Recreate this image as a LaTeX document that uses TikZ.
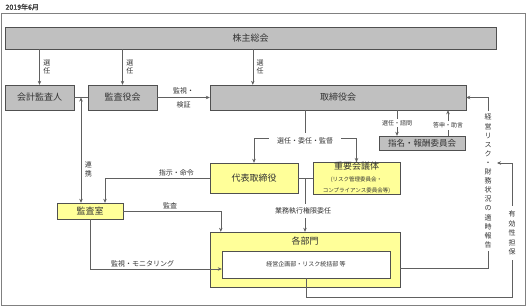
\documentclass[tikz,border=0pt]{standalone}
\usepackage{fontspec}
\setmainfont{Noto Sans CJK JP}[AutoFakeBold=1.5]
\usetikzlibrary{arrows.meta, calc}

\definecolor{boxgray}{HTML}{C0C0C0}
\definecolor{boxyel}{HTML}{FFFF99}
\definecolor{edge}{HTML}{505050}
\definecolor{wire}{HTML}{606060}
\definecolor{txt}{HTML}{333333}

\newcommand{\subsize}{\fontsize{5.5}{6.8}\selectfont}

\begin{document}
\begin{tikzpicture}[
		x=1pt, y=-1pt,
		>={Stealth[length=4pt, width=3.5pt]},
		base/.style={draw=edge, inner sep=0pt, align=center, text=txt},
		graybox/.style={base, fill=boxgray, font=\fontsize{9}{11}\selectfont},
		yelbox/.style={base, fill=boxyel, font=\fontsize{9}{11}\selectfont},
		lbl/.style={fill=white, inner sep=1.5pt, align=center, text=txt, font=\fontsize{7}{8.5}\selectfont},
		vlbl/.style={lbl, inner sep=3pt, font=\fontsize{7}{9.1}\selectfont},
		conn/.style={draw=wire, line width=0.6pt}
	]
	\useasboundingbox (0,0) rectangle (527,306);

	% Frame and date
	\node[anchor=west, text=txt, font=\fontsize{7}{8}\selectfont\bfseries] (date) at (2,7) {2019年6月};
	\draw[draw=gray, line width=0.6pt] (1,13) rectangle (525,305);

	% Nodes
	\node[graybox, minimum width=491pt, minimum height=22pt] (kabunushi) at (250.5,38) {株主総会};
	\node[graybox, minimum width=69pt, minimum height=25pt] (kaikei) at (39.5,97.5) {会計監査人};
	\node[graybox, minimum width=69pt, minimum height=25pt] (kansayaku) at (122.5,97.5) {監査役会};
	\node[graybox, minimum width=256pt, minimum height=25pt] (torishimari) at (338,97.5) {取締役会};
	\node[graybox, minimum width=86pt, minimum height=14pt, font=\fontsize{8.5}{10}\selectfont] (shimei) at (422,143) {指名・報酬委員会};

	\node[yelbox, minimum width=88pt, minimum height=30pt] (daihyo) at (254,178) {代表取締役};
	\node[yelbox, minimum width=87pt, minimum height=30pt] (juyo) at (356.5,178)
		{重要会議体\\[1pt]\subsize (リスク管理委員会・\\\subsize コンプライアンス委員会等)};
	\node[yelbox, minimum width=66pt, minimum height=16pt] (kansashitsu) at (90,211) {監査室};

	\node[yelbox, minimum width=190pt, minimum height=55pt] (bumon) at (305,259.5) {};
	\node[text=txt, font=\fontsize{9}{11}\selectfont] (bumontitle) at (305,241) {各部門};
	\node[base, fill=white, minimum width=168pt, minimum height=27pt, font=\fontsize{6}{7}\selectfont] (kikaku) at (306,264.5) {経営企画部・リスク統括部 等};

	% Helper points
	\coordinate (t1) at ([xshift=43pt]torishimari.north west);
	\coordinate (renkei) at ($(kaikei.east)!0.5!(kansayaku.west)$);
	\coordinate (shiji-in) at ([xshift=15pt]kansashitsu.north);
	\coordinate (kansa-in) at ([xshift=11pt]bumon.north west);
	\coordinate (moni-in) at ([yshift=-4.5pt]kikaku.west);
	\coordinate (split) at (305,138);
	\coordinate (gyomu) at (305,178);
	\coordinate (sel) at ([xshift=-25pt]shimei.north);
	\coordinate (ans) at ([xshift=26pt]shimei.north);
	\coordinate (rep-out) at ([yshift=-8.5pt]bumon.east);
	\coordinate (rep-mid) at (488,181);
	\coordinate (ef-low) at (512,297);
	\coordinate (ef-top) at (512,163);
	\coordinate (ef-mid) at (512,233);
	\coordinate (ef-end) at (497,163);

	% Arrows
	\draw[conn, ->] (kaikei |- kabunushi.south) -- node[lbl, anchor=west, xshift=2pt] {選\\任} (kaikei.north);
	\draw[conn, ->] (kansayaku |- kabunushi.south) -- node[lbl, anchor=west, xshift=2pt] {選\\任} (kansayaku.north);
	\draw[conn, ->] (t1 |- kabunushi.south) -- node[lbl, anchor=west, xshift=2pt] {選\\任} (t1);

	\draw[conn, ->] (kansayaku.east) -- node[above, text=txt, font=\fontsize{7}{8}\selectfont] {監視・}
		node[below, text=txt, font=\fontsize{7}{8}\selectfont] {検証} (kansayaku.east -| torishimari.west);

	\draw[conn] (kaikei.east) -- (kansayaku.west);
	\draw[conn, <->] (renkei) -- node[lbl, pos=0.68, anchor=west, xshift=2pt] {連\\携} (renkei |- kansashitsu.north);

	\draw[conn] (split |- torishimari.south) -- (split);
	\draw[conn, ->] (split) -| (daihyo.north);
	\draw[conn, ->] (split) -| (juyo.north);
	\node[lbl, inner xsep=8pt, minimum height=16pt] (senninlbl) at ([yshift=-3pt]split) {選任・委任・監督};

	\draw[conn] (daihyo.east) -- (juyo.west);
	\draw[conn, ->] (gyomu) -- (gyomu |- bumon.north);
	\node[lbl, inner xsep=6pt, minimum height=14pt] (gyomulbl) at (303,211) {業務執行権限委任};

	\draw[conn, ->] (daihyo.west) -| node[lbl, pos=0.16, above] {指示・命令} (shiji-in);
	\draw[conn, ->] (kansashitsu.east) -| node[lbl, pos=0.24, above] {監査} (kansa-in);
	\draw[conn, ->] (kansashitsu.south) |- node[lbl, pos=0.7, above] {監視・モニタリング} (moni-in);

	\draw[conn, ->] (sel |- torishimari.south) -- node[lbl, font=\fontsize{6}{7}\selectfont] {選任・諮問} (sel);
	\draw[conn, ->] (ans) -- node[lbl, font=\fontsize{6}{7}\selectfont, pos=0.4] {答申・助言} (ans |- torishimari.south);

	\draw[conn, ->] (rep-out) -| (rep-mid) |- (torishimari.east);
	\node[vlbl] (report) at (rep-mid) {経\\営\\リ\\ス\\ク\\・\\財\\務\\状\\況\\の\\適\\時\\報\\告};

	\draw[conn, ->] (kikaku.south) |- (ef-low) -- (ef-top) -- (ef-end);
	\node[vlbl, inner sep=5pt, font=\fontsize{7}{9.5}\selectfont] (yuko) at (ef-mid) {有\\効\\性\\担\\保};

\end{tikzpicture}
\end{document}
